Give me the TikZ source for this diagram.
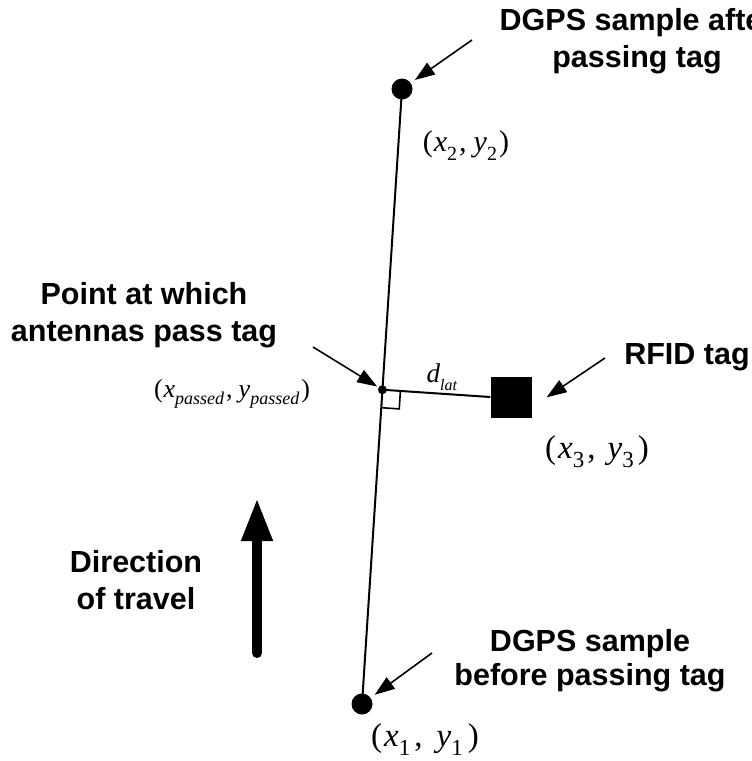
\documentclass[tikz,border=0pt]{standalone}
\usepackage{fontspec}
\setmainfont{Liberation Sans}
\newfontfamily\tms{Liberation Serif}
\usetikzlibrary{arrows.meta,calc}

% lowered, smaller subscript in a given size
\newcommand{\lo}[2]{\raisebox{-0.3em}{\fontsize{#1}{#1}\selectfont #2}}

\tikzset{
  label/.style={font=\fontsize{30.5}{37}\selectfont\bfseries, align=center, inner sep=0pt},
  bigdot/.style={circle, fill=black, minimum size=21pt, inner sep=0pt},
  smalldot/.style={circle, fill=black, minimum size=9pt, inner sep=0pt},
  tagbox/.style={rectangle, fill=black, minimum size=41pt, inner sep=0pt},
  pointer/.style={line width=1.6pt, -{Triangle[length=20pt,width=14pt]}},
  track/.style={line width=2pt},
  coordlabel/.style={inner sep=0pt, anchor=base}
}

\begin{document}
\begin{tikzpicture}[x=1pt, y=-1pt]
  \useasboundingbox (0,0) rectangle (752,761);
  \clip (0,0) rectangle (752,761);

  % DGPS samples and track between them
  \node[bigdot] (p2) at (402,89) {};
  \node[bigdot] (p1) at (362,704) {};
  \draw[track] (p2.center) -- (p1.center);
  \path (p2.center) -- (p1.center) coordinate[pos=0.489] (pp);
  \node[smalldot] (ppdot) at (pp) {};

  % RFID tag and lateral distance
  \node[tagbox] (tag) at (511,397) {};
  \draw[track] (pp) -- (tag.west);
  \coordinate (ra) at ($(pp)!18pt!(tag.west)$);
  \coordinate (rb) at ($(pp)!18pt!(p1.center)$);
  \draw[line width=1.6pt] (ra) -- ($(ra)+(rb)-(pp)$) -- (rb);
  \node[coordlabel] (dlat) at (442,382) {\tms\fontsize{27}{27}\selectfont\textit{d}\lo{16}{\textit{lat}}};

  % coordinate labels
  \node[coordlabel] (c2) at (466,151) {\tms\fontsize{30}{30}\selectfont(\kern1pt\textit{x}\lo{20}{2}\kern2pt,\kern7pt\textit{y}\lo{20}{2}\kern2pt)};
  \node[coordlabel] (c3) at (597,458) {\tms\fontsize{33}{33}\selectfont(\kern2pt\textit{x}\lo{23}{3}\kern3pt,\kern12pt\textit{y}\lo{23}{3}\kern4pt)};
  \node[coordlabel] (c1) at (425,746) {\tms\fontsize{33}{33}\selectfont(\kern2pt\textit{x}\lo{23}{1}\kern4pt,\kern14pt\textit{y}\lo{23}{1}\kern5pt)};
  \node[coordlabel] (cp) at (232,397) {\tms\fontsize{26}{26}\selectfont(\kern1pt\textit{x}\lo{18}{\textit{passed}}\kern2pt,\kern6pt\textit{y}\lo{18}{\textit{passed}}\kern2pt)};

  % text labels
  \node[label] (after) at (637,41) {DGPS sample after\\passing tag};
  \node[label, font=\fontsize{30.5}{34}\selectfont\bfseries] (before) at (590,661) {DGPS sample\\before passing tag};
  \node[label] (passlbl) at (144,315) {Point at which\\antennas pass tag};
  \node[label] (rfid) at (687,357) {RFID tag};
  \node[label] (dir) at (136,580) {Direction\\of travel};

  % pointers
  \coordinate (a2) at (472,40);
  \coordinate (a1) at (432,653);
  \coordinate (ap) at (313,347);
  \coordinate (at) at (605,358);
  \draw[pointer, shorten >=5pt] (a2) -- (p2);
  \draw[pointer, shorten >=5pt] (a1) -- (p1);
  \draw[pointer, shorten >=1.5pt] (ap) -- (ppdot);
  \draw[pointer, shorten >=18pt] (at) -- ($(tag.east)!0.5!(tag.south east)$);

  % direction of travel arrow
  \coordinate (dtail) at (257,653);
  \coordinate (dhead) at (257,498);
  \draw[line width=10pt, line cap=round, -{Triangle[length=43pt,width=29pt]}] (dtail) -- (dhead);
\end{tikzpicture}
\end{document}
